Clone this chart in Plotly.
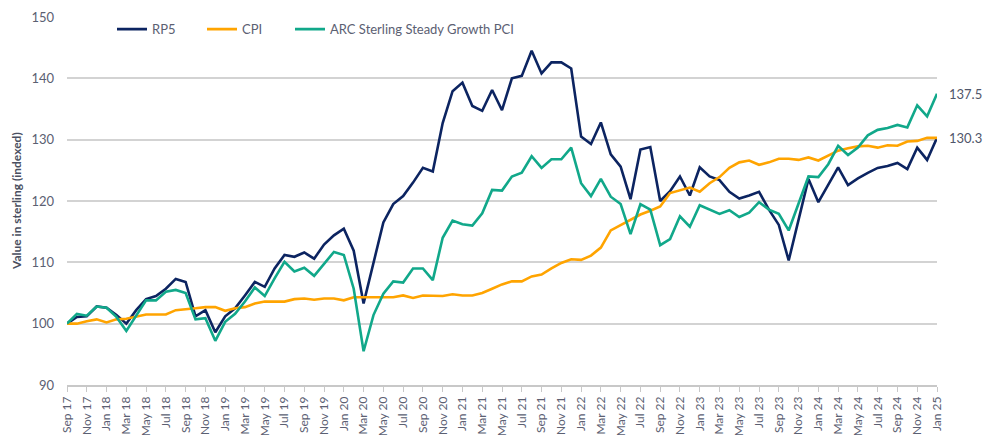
import plotly.graph_objects as go

months = [
    "Sep 17", "Oct 17", "Nov 17", "Dec 17",
    "Jan 18", "Feb 18", "Mar 18", "Apr 18", "May 18", "Jun 18", "Jul 18", "Aug 18", "Sep 18", "Oct 18", "Nov 18", "Dec 18",
    "Jan 19", "Feb 19", "Mar 19", "Apr 19", "May 19", "Jun 19", "Jul 19", "Aug 19", "Sep 19", "Oct 19", "Nov 19", "Dec 19",
    "Jan 20", "Feb 20", "Mar 20", "Apr 20", "May 20", "Jun 20", "Jul 20", "Aug 20", "Sep 20", "Oct 20", "Nov 20", "Dec 20",
    "Jan 21", "Feb 21", "Mar 21", "Apr 21", "May 21", "Jun 21", "Jul 21", "Aug 21", "Sep 21", "Oct 21", "Nov 21", "Dec 21",
    "Jan 22", "Feb 22", "Mar 22", "Apr 22", "May 22", "Jun 22", "Jul 22", "Aug 22", "Sep 22", "Oct 22", "Nov 22", "Dec 22",
    "Jan 23", "Feb 23", "Mar 23", "Apr 23", "May 23", "Jun 23", "Jul 23", "Aug 23", "Sep 23", "Oct 23", "Nov 23", "Dec 23",
    "Jan 24", "Feb 24", "Mar 24", "Apr 24", "May 24", "Jun 24", "Jul 24", "Aug 24", "Sep 24", "Oct 24", "Nov 24", "Dec 24",
    "Jan 25",
]

rp5 = [
    100.0, 101.1, 101.2, 102.8, 102.6, 101.4, 100.0, 102.2, 104.0, 104.5, 105.7, 107.3, 106.8, 101.2, 102.2, 98.6,
    101.2, 102.5, 104.6, 106.8, 106.0, 109.0, 111.2, 110.9, 111.6, 110.6, 112.9, 114.4,
    115.5, 111.9, 103.3, 109.8, 116.5, 119.5, 120.8, 123.0, 125.4, 124.8, 132.7, 137.9,
    139.3, 135.5, 134.7, 138.1, 134.8, 140.0, 140.4, 144.5, 140.8, 142.6, 142.6, 141.6,
    130.5, 129.3, 132.8, 127.6, 125.6, 120.3, 128.4, 128.8, 120.0, 121.6, 124.0, 120.9,
    125.5, 124.0, 123.4, 121.5, 120.4, 120.9, 121.5, 118.6, 116.1, 110.3, 116.8, 123.6,
    119.8, 122.6, 125.5, 122.6, 123.7, 124.6, 125.4, 125.7, 126.2, 125.2, 128.7, 126.7,
    130.3,
]

cpi = [
    100.0, 100.0, 100.4, 100.7, 100.2, 100.7, 100.8, 101.2, 101.5, 101.5, 101.5, 102.2, 102.3, 102.5, 102.7, 102.7,
    102.1, 102.5, 102.7, 103.3, 103.6, 103.6, 103.6, 104.0, 104.1, 103.9, 104.1, 104.1,
    103.8, 104.3, 104.3, 104.2, 104.2, 104.3, 104.6, 104.2, 104.6, 104.6, 104.5, 104.8,
    104.6, 104.6, 105.0, 105.7, 106.4, 106.9, 106.9, 107.7, 108.0, 109.0, 109.9, 110.5,
    110.4, 111.1, 112.4, 115.2, 116.1, 116.9, 117.8, 118.4, 119.1, 121.3, 121.7, 122.2,
    121.5, 122.9, 123.9, 125.4, 126.3, 126.6, 125.9, 126.3, 126.9, 126.9, 126.7, 127.1,
    126.6, 127.4, 128.2, 128.6, 128.9, 129.0, 128.7, 129.1, 129.0, 129.7, 129.8, 130.3,
    130.3,
]

arc = [
    100.0, 101.6, 101.3, 102.8, 102.6, 101.1, 98.8, 101.4, 103.8, 103.8, 105.2, 105.5, 105.0, 100.7, 100.9, 97.2,
    100.3, 101.6, 103.6, 105.9, 104.5, 107.4, 110.1, 108.5, 109.1, 107.8, 109.7, 111.7,
    111.2, 105.7, 95.5, 101.4, 104.9, 106.9, 106.7, 109.0, 109.0, 107.1, 114.0, 116.8,
    116.2, 116.0, 118.0, 121.8, 121.7, 124.0, 124.6, 127.3, 125.4, 126.8, 126.8, 128.7,
    122.9, 120.8, 123.6, 120.7, 119.5, 114.6, 119.5, 118.6, 112.8, 113.8, 117.5, 115.8,
    119.3, 118.6, 117.9, 118.5, 117.4, 118.1, 119.8, 118.6, 117.9, 115.2, 119.5, 124.0,
    123.9, 126.0, 129.0, 127.5, 128.7, 130.7, 131.6, 131.9, 132.4, 132.0, 135.6, 133.8,
    137.5,
]

series_names = ["RP5", "CPI", "ARC Sterling Steady Growth PCI"]
end_labels = ["137.5", "130.3"]
y_ticks = [90, 100, 110, 120, 130, 140, 150]

FONT = "Lato"
GREY = "#5b6072"
colors = {"RP5": "#0c2461", "CPI": "#ffa400", "ARC Sterling Steady Growth PCI": "#11a88a"}

# The page body has an 8px default margin; compensate so the plot sits where intended.
OFF = 8
W, H = 997 - OFF, 435 - OFF
PLOT_W = 870

x_idx = list(range(len(months)))
legend_ids = ["legend", "legend2", "legend3"]
legend_x = [(118 - 73) / PLOT_W, (208 - 73) / PLOT_W, (296 - 73) / PLOT_W]

fig = go.Figure()
for name, vals, lid in zip(series_names, [rp5, cpi, arc], legend_ids):
    fig.add_trace(go.Scatter(
        x=x_idx, y=vals, mode="lines", name=name, legend=lid,
        line=dict(color=colors[name], width=2.6),
    ))

for val, txt in zip([arc[-1], cpi[-1]], end_labels):
    fig.add_annotation(x=x_idx[-1], y=val, text=txt, showarrow=False,
                       xanchor="left", xshift=10,
                       font=dict(family=FONT, size=13, color="#50566a"))

fig.add_annotation(xref="paper", yref="paper", x=(16 - 67) / PLOT_W, y=0.5,
                   text="<b>Value in sterling (indexed)</b>", textangle=-90,
                   showarrow=False, xanchor="center", yanchor="middle",
                   font=dict(family=FONT, size=12, color="#4a4f60"))

legend_style = dict(orientation="h", y=0.967, xanchor="left", yanchor="middle",
                    font=dict(family=FONT, size=13, color=GREY),
                    bgcolor="rgba(0,0,0,0)", itemwidth=30)

fig.update_layout(
    width=W, height=H,
    margin=dict(l=67 - OFF, r=W - (937 - OFF), t=17 - OFF, b=H - (385 - OFF), autoexpand=False),
    paper_bgcolor="white", plot_bgcolor="white",
    font=dict(family=FONT, color=GREY, size=12),
    showlegend=True,
    legend=dict(x=legend_x[0], **legend_style),
    legend2=dict(x=legend_x[1], **legend_style),
    legend3=dict(x=legend_x[2], **legend_style),
    xaxis=dict(
        range=[0, len(months) - 1], automargin=False,
        tickmode="array", tickvals=x_idx[::2], ticktext=months[::2],
        tickangle=-90, tickfont=dict(family=FONT, size=12, color=GREY),
        showgrid=False, zeroline=False,
        showline=True, linecolor="#c8c8c8", linewidth=1.5,
        ticks="outside", ticklen=5, tickcolor="#c8c8c8", tickwidth=1,
    ),
    yaxis=dict(
        range=[90, 150], tickvals=y_ticks, automargin=False,
        tickfont=dict(family=FONT, size=13, color=GREY),
        showgrid=True, gridcolor="#d3d3d3", gridwidth=1.5,
        zeroline=False, showline=False, ticks="", ticklabelstandoff=12,
    ),
)

fig.write_html("out.html")
